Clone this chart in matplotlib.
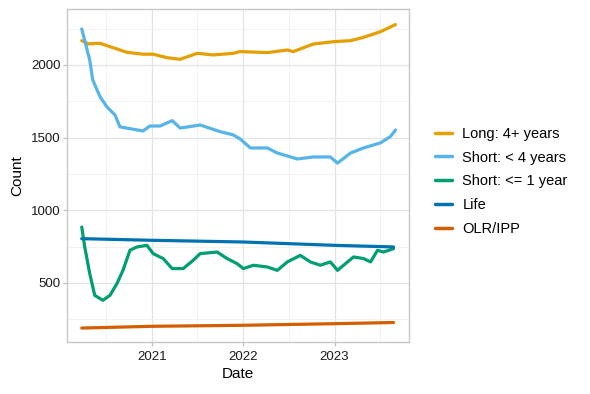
import matplotlib
matplotlib.use("Agg")
import matplotlib.pyplot as plt
import matplotlib.dates as mdates
import numpy as np
import pandas as pd

plt.rcParams["font.family"] = ["Liberation Sans", "DejaVu Sans"]

# values
long_dates = ["2020-03-25", "2020-04-20", "2020-06-06", "2020-07-16", "2020-09-22", "2020-11-25",
              "2021-01-05", "2021-03-02", "2021-04-23", "2021-06-30", "2021-09-02",
              "2021-11-21", "2021-12-19", "2022-04-07", "2022-06-26", "2022-07-20",
              "2022-10-08", "2022-12-27", "2023-03-06", "2023-04-27", "2023-07-04",
              "2023-09-02"]
long_vals = [2167, 2145, 2149, 2126, 2087, 2074,
             2074, 2050, 2039, 2080, 2069,
             2080, 2092, 2085, 2103, 2092,
             2144, 2160, 2167, 2190, 2229,
             2278]

short4_dates = ["2020-03-25", "2020-04-26", "2020-05-08", "2020-06-06", "2020-07-04",
                "2020-08-05", "2020-08-25", "2020-10-10", "2020-11-25", "2020-12-23",
                "2021-02-02", "2021-03-22", "2021-04-23", "2021-07-12", "2021-09-30",
                "2021-11-21", "2021-12-19", "2022-01-29", "2022-04-07", "2022-05-17",
                "2022-06-26", "2022-08-05", "2022-10-08", "2022-12-15", "2023-01-13",
                "2023-03-06", "2023-04-27", "2023-07-04", "2023-08-13", "2023-09-02"]
short4_vals = [2248, 2034, 1897, 1782, 1711,
               1656, 1574, 1560, 1546, 1580,
               1580, 1617, 1566, 1587, 1541,
               1519, 1491, 1429, 1429, 1394,
               1374, 1353, 1367, 1367, 1325,
               1394, 1429, 1464, 1508, 1553]

short1_dates = ["2020-03-25", "2020-04-06", "2020-04-26", "2020-05-16", "2020-06-06",
                "2020-06-18", "2020-07-16", "2020-08-13", "2020-09-06", "2020-10-04",
                "2020-11-01", "2020-12-11", "2021-01-05", "2021-02-14", "2021-03-22",
                "2021-05-05", "2021-06-14", "2021-07-12", "2021-09-18", "2021-10-28",
                "2021-12-07", "2022-01-01", "2022-02-10", "2022-04-07", "2022-05-17",
                "2022-06-26", "2022-08-17", "2022-09-26", "2022-11-05", "2022-12-15",
                "2023-01-13", "2023-02-22", "2023-03-18", "2023-04-27", "2023-05-25",
                "2023-06-22", "2023-07-16", "2023-08-25"]
short1_vals = [885, 748, 565, 415, 393,
               381, 415, 496, 587, 725,
               748, 759, 702, 668, 599,
               599, 656, 702, 713, 668,
               633, 599, 622, 610, 587,
               645, 690, 645, 622, 645,
               587, 645, 679, 668, 645,
               725, 713, 736]

life_dates = ["2020-03-25", "2020-12-23", "2022-01-01", "2023-01-01", "2023-08-25"]
life_vals = [805, 794, 782, 759, 748]

olr_dates = ["2020-03-25", "2021-01-01", "2022-01-01", "2023-01-01", "2023-08-25"]
olr_vals = [190, 202, 209, 220, 228]

series = [
    ("Long: 4+ years", long_dates, long_vals, "#E69F00"),
    ("Short: < 4 years", short4_dates, short4_vals, "#56B4E9"),
    ("Short: <= 1 year", short1_dates, short1_vals, "#009E73"),
    ("Life", life_dates, life_vals, "#0072B2"),
    ("OLR/IPP", olr_dates, olr_vals, "#D55E00"),
]

fig = plt.figure(figsize=(5.9, 3.94), dpi=100)
ax = fig.add_axes([67 / 590, 1 - 342 / 394, (409 - 67) / 590, (342 - 9) / 394])

for label, d, v, c in series:
    ax.plot(pd.to_datetime(d), v, color=c, lw=2.3, label=label,
            solid_joinstyle="round", solid_capstyle="round")

ax.set_xlim(pd.Timestamp("2020-01-26"), pd.Timestamp("2023-10-26"))
ax.set_ylim(94, 2385)

ax.set_yticks([500, 1000, 1500, 2000])
ax.set_yticks([250, 750, 1250, 1750, 2250], minor=True)
ax.xaxis.set_major_locator(mdates.YearLocator())
ax.xaxis.set_major_formatter(mdates.DateFormatter("%Y"))
ax.xaxis.set_minor_locator(mdates.MonthLocator(bymonth=7))

ax.grid(which="major", color="#E3E3E3", lw=0.9)
ax.grid(which="minor", color="#F0F0F0", lw=0.6)
ax.set_axisbelow(True)
for s in ax.spines.values():
    s.set_color("#C8C8C8")
    s.set_linewidth(1.0)
ax.tick_params(which="major", length=3.2, width=0.8, color="#BDBDBD",
               labelsize=9.5, labelcolor="#1a1a1a", pad=1.5)
ax.tick_params(axis="x", which="major", pad=3)
ax.tick_params(which="minor", length=0)

ax.set_xlabel("Date", fontsize=11, labelpad=3.5)
ax.set_ylabel("Count", fontsize=11, labelpad=5)

leg = ax.legend(loc="center left", bbox_to_anchor=(1.037, 0.482), frameon=False,
                fontsize=10.5, handlelength=1.2, handletextpad=0.7, labelspacing=0.68)
for h in leg.get_lines():
    h.set_linewidth(2.5)

fig.savefig("out.png", dpi=100)
